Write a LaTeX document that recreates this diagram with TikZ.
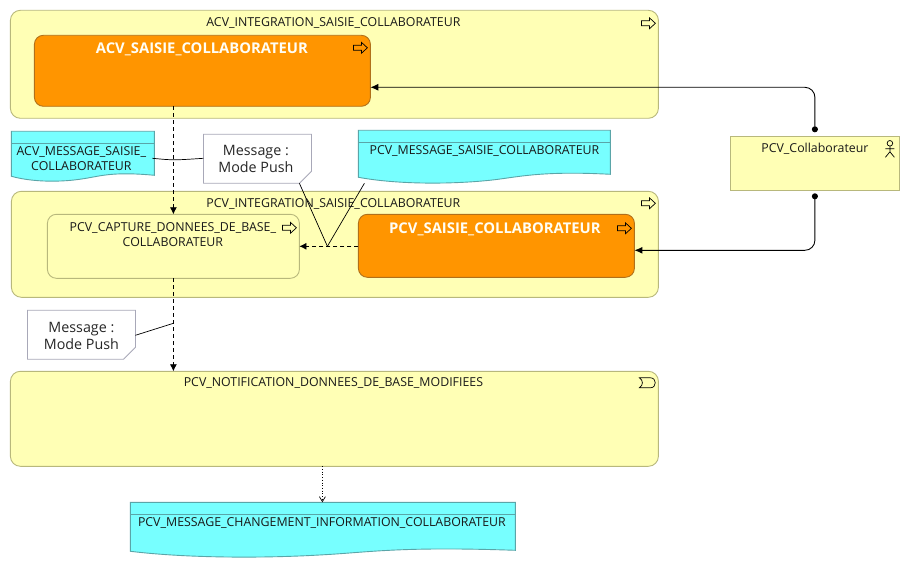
\documentclass[tikz,border=0pt]{standalone}
\usepackage{fontspec}
\setmainfont{Open Sans}
\usetikzlibrary{arrows.meta,calc}
\definecolor{ylw}{HTML}{FFFFB5}
\definecolor{ylwb}{HTML}{B8B87C}
\definecolor{org}{HTML}{FF9500}
\definecolor{orgb}{HTML}{B0701A}
\definecolor{cyn}{HTML}{77FFFF}
\definecolor{cynb}{HTML}{5AA5A8}
\definecolor{noteb}{HTML}{A8A8B8}
\tikzset{
  base/.style={anchor=north west,inner sep=0pt,outer sep=0pt,line width=.9pt},
  container/.style={base,draw=ylwb,fill=ylw,rounded corners=10pt},
  hot/.style={base,draw=orgb,fill=org,rounded corners=9pt},
  actorbox/.style={base,draw=ylwb,fill=ylw},
  ghost/.style={base,draw=none},
  title/.style={font=\fontsize{12.35}{15}\selectfont,align=center,inner sep=0pt,text=black!90},
  hottitle/.style={font=\fontsize{14.8}{18}\selectfont\bfseries,inner sep=0pt,text=white!96!yellow},
  notetext/.style={font=\fontsize{14.3}{17}\selectfont,align=center,inner sep=0pt,text=black!85},
  flow/.style={line width=.8pt,dashed,dash pattern=on 4pt off 3pt,-{Latex[length=7pt,width=7pt]}},
  trig/.style={line width=.9pt,{Circle[length=6pt,width=6pt]}-{Latex[length=8pt,width=7pt]},rounded corners=10pt},
  access/.style={line width=.7pt,dotted,-{Straight Barb[length=5pt,width=6pt]}},
  assoc/.style={line width=.7pt},
  icon/.style={line width=.7pt,draw=black,fill=none},
}
\newcommand{\arrowicon}[2]{\draw[icon] (#1,#2) ++(-14,-2.5) -- ++(8,0) -- ++(0,-3) -- ++(6,5.5) -- ++(-6,5.5) -- ++(0,-3) -- ++(-8,0) -- cycle;}
\newcommand{\docnode}[7]{%
  \node[ghost,minimum width=#4pt,minimum height=#5pt] (#1) at (#2,#3) {};
  \draw[line width=.9pt,draw=cynb,fill=cyn]
    (#1.north west) -- (#1.north east) -- ($(#1.north east)+(0,#6)$)
    .. controls ($(#1.north east)+(-#4*.30,#6-4)$) and ($(#1.north west)+(#4*.62,#5-5)$) .. ($(#1.north west)+(#4*.5,#5-2.5)$)
    .. controls ($(#1.north west)+(#4*.35,#5+1)$) and ($(#1.north west)+(#4*.15,#5+1)$) .. ($(#1.north west)+(0,#7)$) -- cycle;
  \draw[line width=.7pt,draw=cynb] ($(#1.north west)+(0,12)$) -- ($(#1.north east)+(0,12)$);
}
\newcommand{\notenode}[5]{%
  \node[ghost,minimum width=#4pt,minimum height=#5pt] (#1) at (#2,#3) {};
  \draw[line width=.8pt,draw=noteb,fill=white]
    (#1.north west) -- (#1.north east) -- ($(#1.south east)+(0,-12)$) -- ($(#1.south east)+(-12,0)$) -- (#1.south west) -- cycle;
}
\begin{document}
\begin{tikzpicture}[x=1pt,y=-1pt]
\useasboundingbox (0,0) rectangle (910,567);
\fill[white] (0,0) rectangle (910,567);
\begin{scope}[xshift=-.6pt,yshift=-.3pt]

% containers
\node[container,minimum width=648pt,minimum height=108pt] (boxA) at (11,10) {};
\node[container,minimum width=647pt,minimum height=106pt] (boxB) at (12,191) {};
\node[container,minimum width=648pt,minimum height=95pt] (boxC) at (11,371) {};
\node[actorbox,minimum width=169pt,minimum height=54pt] (collab) at (731,136) {};

% inner boxes
\node[hot,minimum width=336pt,minimum height=71pt] (acvS) at (35,35) {};
\node[hot,minimum width=276pt,minimum height=63pt] (pcvS) at (359,214) {};
\node[container,rounded corners=9pt,minimum width=252pt,minimum height=64pt] (capture) at (48,214) {};

% messages
\docnode{msgA}{12}{131}{143}{50}{44}{45}
\docnode{msgB}{359}{130}{252}{53}{44}{47}
\docnode{msgC}{131}{502}{385}{55}{48}{49}

% notes
\notenode{noteA}{204}{134}{108}{49}
\notenode{noteB}{28}{310}{108}{49}

% connector points
\coordinate (j1) at (328,246);
\coordinate (j2) at (174,323);
\coordinate (j3) at (174,160);
\coordinate (mb) at (365,183);
\coordinate (na) at (300,183);
\coordinate (nb) at (136,335);
\coordinate (ca) at (815.5,132);
\coordinate (cb) at (815.5,193);
\coordinate (ea) at (371,87);
\coordinate (eb) at (635,250);
\coordinate (ds) at (323,466);
\coordinate (dt) at (323,502);
\coordinate (ml) at (153,158);
\coordinate (nl) at (204,158);

% connectors
\draw[flow] (capture.north |- acvS.south) -- (capture.north);
\draw[flow] (capture.south) -- (capture.south |- boxC.north);
\draw[flow] (pcvS.west |- capture.east) -- (capture.east);
\draw[access] (ds) -- (dt);
\draw[trig] (ca) -- (ca |- ea) -- (ea);
\draw[trig] (cb) -- (cb |- eb) -- (eb);
\draw[assoc] (ml) .. controls (j3) .. (nl);
\draw[assoc] (na) -- (j1);
\draw[assoc] (mb) -- (j1);
\draw[assoc] (nb) -- (j2);

% titles
\node[title] (tA) at (334,22.7) {ACV\_INTEGRATION\_SAISIE\_COLLABORATEUR};
\node[hottitle] (tAS) at (202.5,48.7) {ACV\_SAISIE\_COLLABORATEUR};
\node[title] (tB) at (334,203.7) {PCV\_INTEGRATION\_SAISIE\_COLLABORATEUR};
\node[title] (tCap) at (173.5,234.7) {PCV\_CAPTURE\_DONNEES\_DE\_BASE\_\\COLLABORATEUR};
\node[hottitle] (tPS) at (495.5,228.7) {PCV\_SAISIE\_COLLABORATEUR};
\node[title] (tC) at (334,382.7) {PCV\_NOTIFICATION\_DONNEES\_DE\_BASE\_MODIFIEES};
\node[title] (tMA) at (82,158.7) {ACV\_MESSAGE\_SAISIE\_\\COLLABORATEUR};
\node[title] (tMB) at (485,150.7) {PCV\_MESSAGE\_SAISIE\_COLLABORATEUR};
\node[title] (tMC) at (322.5,522.7) {PCV\_MESSAGE\_CHANGEMENT\_INFORMATION\_COLLABORATEUR};
\node[title] (tCol) at (815.5,148.7) {PCV\_Collaborateur};
\node[notetext] (tNA) at (256.5,158.5) {Message :\\Mode Push};
\node[notetext] (tNB) at (82,335.5) {Message :\\Mode Push};

% icons
\arrowicon{656}{23}
\arrowicon{368}{47.5}
\arrowicon{656}{203}
\arrowicon{632}{228}
\arrowicon{297}{227.5}
% event icon
\draw[icon] (640,377.5) -- (651,377.5) .. controls (657.5,377.5) and (657.5,387.5) .. (651,387.5) -- (640,387.5) .. controls (644,385) and (644,380) .. (640,377.5) -- cycle;
% actor icon
\draw[icon] (890.5,143) circle (2.8);
\draw[icon] (890.5,145.8) -- (890.5,151.5) (886,148.5) -- (895,148.5) (886,157) -- (890.5,151.5) -- (895,157);
\end{scope}
\end{tikzpicture}
\end{document}
